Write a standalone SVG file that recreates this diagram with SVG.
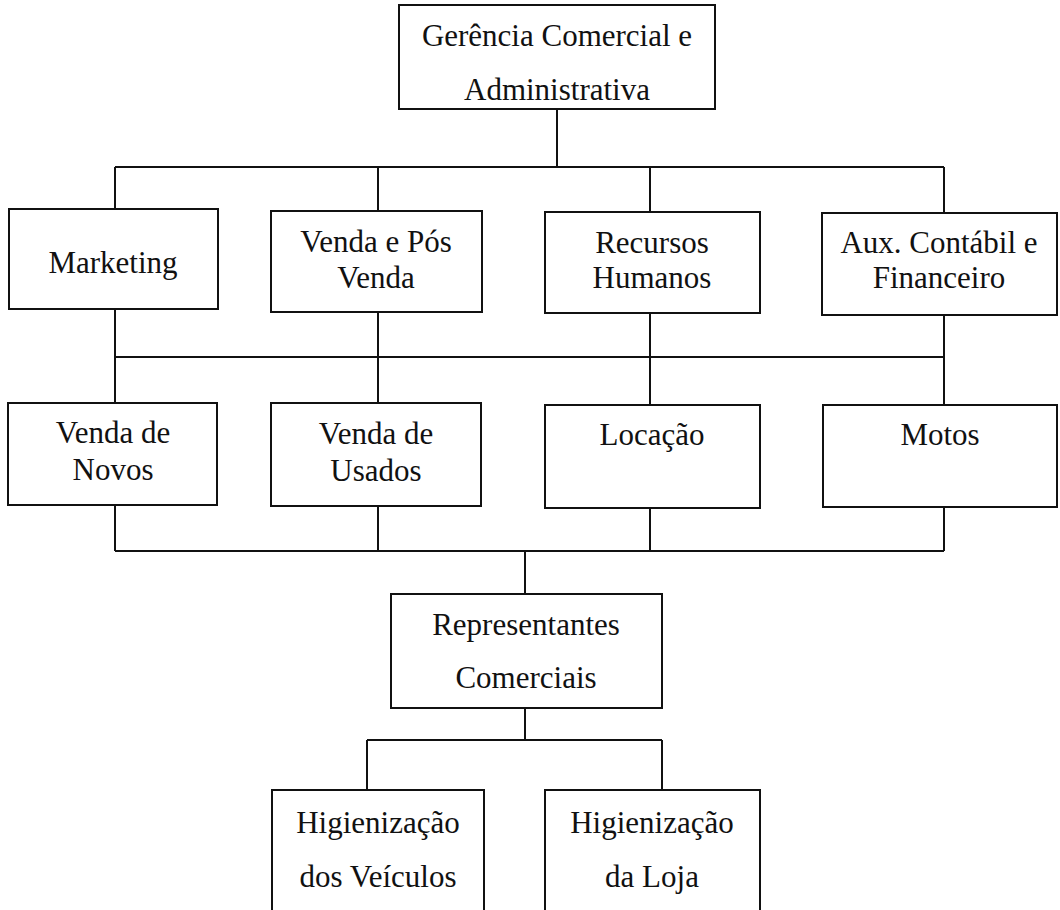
<svg xmlns="http://www.w3.org/2000/svg" width="1060" height="910" viewBox="0 0 1060 910">
<style>
.box{fill:#fff;stroke:#111;stroke-width:2}
.ln{fill:none;stroke:#111;stroke-width:2}
text{font-family:"Liberation Serif","Times New Roman",serif;font-size:31px;fill:#111;text-anchor:middle}
</style>
<rect width="1060" height="910" fill="#fff"/>
<g id="connectors" class="ln">
<path d="M557 109V167M115 167H944M115 167V209M378 167V211M650 167V212M944 167V213"/>
<path d="M115 309V403M378 312V403M650 313V405M944 315V405M115 357H944"/>
<path d="M115 505V551M378 506V551M650 508V551M944 507V551M115 551H944M525 551V594"/>
<path d="M525 708V740M367 740H662M367 740V790M662 740V790"/>
</g>
<g id="n-gerencia"><rect class="box" x="399" y="5" width="316" height="104"/><text x="557" y="46">Gerência Comercial e</text><text x="557" y="100">Administrativa</text></g>
<g id="n-marketing"><rect class="box" x="9" y="209" width="209" height="100"/><text x="113" y="273">Marketing</text></g>
<g id="n-venda-pos"><rect class="box" x="271" y="211" width="211" height="101"/><text x="376" y="252">Venda e Pós</text><text x="376" y="288">Venda</text></g>
<g id="n-rh"><rect class="box" x="545" y="212" width="215" height="101"/><text x="652" y="253">Recursos</text><text x="652" y="288">Humanos</text></g>
<g id="n-aux"><rect class="box" x="822" y="213" width="235" height="102"/><text x="939" y="253">Aux. Contábil e</text><text x="939" y="288">Financeiro</text></g>
<g id="n-novos"><rect class="box" x="8" y="403" width="209" height="102"/><text x="113" y="443">Venda de</text><text x="113" y="480">Novos</text></g>
<g id="n-usados"><rect class="box" x="271" y="403" width="210" height="103"/><text x="376" y="444">Venda de</text><text x="376" y="481">Usados</text></g>
<g id="n-locacao"><rect class="box" x="545" y="405" width="215" height="103"/><text x="652" y="445">Locação</text></g>
<g id="n-motos"><rect class="box" x="823" y="405" width="234" height="102"/><text x="940" y="445">Motos</text></g>
<g id="n-repr"><rect class="box" x="391" y="594" width="271" height="114"/><text x="526" y="635">Representantes</text><text x="526" y="688">Comerciais</text></g>
<g id="n-hig-veic"><rect class="box" x="272" y="790" width="212" height="130"/><text x="378" y="833">Higienização</text><text x="378" y="887">dos Veículos</text></g>
<g id="n-hig-loja"><rect class="box" x="545" y="790" width="215" height="130"/><text x="652" y="833">Higienização</text><text x="652" y="887">da Loja</text></g>
</svg>
